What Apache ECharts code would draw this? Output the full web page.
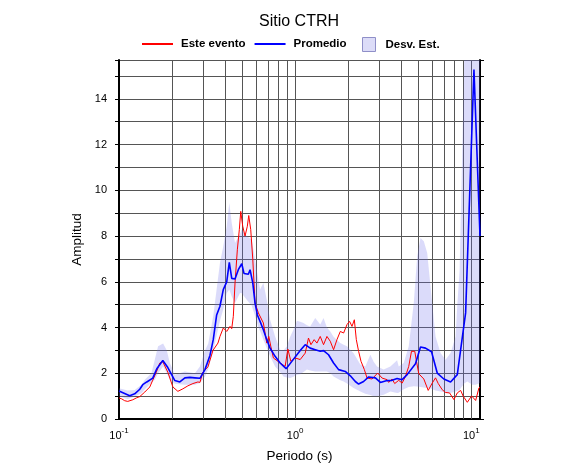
<!DOCTYPE html>
<html><head><meta charset="utf-8">
<script src="https://cdn.jsdelivr.net/npm/echarts@6/dist/echarts.min.js"></script>
<style>html,body{margin:0;padding:0;background:#fff}#c{width:586px;height:475px}</style>
</head><body><div id="c"></div>
<script>
// ---- data ----
const periodRed = [0.100,0.1036,0.1077,0.1121,0.1197,0.1261,0.1312,0.1401,0.1495,0.1555,0.1639,0.1705,0.1773,0.1893,0.2022,0.2159,0.2305,0.2460,0.2627,0.2805,0.2880,0.2995,0.3198,0.3414,0.3645,0.3742,0.3908,0.4087,0.4268,0.4364,0.4456,0.4556,0.4696,0.4819,0.4911,0.5039,0.5194,0.5352,0.5451,0.5596,0.5745,0.5920,0.6182,0.6600,0.6900,0.7085,0.7273,0.7523,0.8214,0.8772,0.9088,0.9452,1.000,1.068,1.140,1.190,1.229,1.282,1.329,1.388,1.449,1.515,1.582,1.652,1.727,1.804,1.884,1.969,2.037,2.102,2.167,2.224,2.292,2.365,2.470,2.559,2.732,2.940,3.114,3.325,3.396,3.550,3.673,3.871,4.048,4.227,4.413,4.573,4.676,4.775,4.864,5.032,5.373,5.692,5.998,6.263,6.489,6.838,7.140,7.525,7.962,8.325,8.693,9.006,9.489,10.04,10.58,11.05,11.2];
const ampRed = [0.92,0.88,0.80,0.77,0.84,0.93,0.98,1.18,1.40,1.70,2.10,2.45,2.50,2.05,1.40,1.21,1.32,1.45,1.55,1.62,1.60,2.05,2.28,3.00,3.32,3.61,3.98,3.83,4.05,3.95,4.49,5.95,7.40,8.28,9.08,8.43,8.00,8.43,8.90,8.28,7.00,5.07,4.64,4.20,3.32,3.61,3.18,2.67,2.45,2.30,3.06,2.52,2.67,2.60,2.88,3.54,3.25,3.47,3.32,3.61,3.25,3.61,3.40,3.03,3.47,3.83,3.76,4.13,4.27,4.05,4.34,3.47,2.96,2.52,2.16,1.79,1.75,2.01,1.79,1.72,1.60,1.75,1.55,1.69,1.57,1.86,2.30,2.96,2.88,2.96,2.59,1.98,1.75,1.25,1.57,1.80,1.55,1.28,1.16,1.14,0.85,1.14,1.25,0.99,0.73,1.01,0.81,1.36,1.40];

const periodBlue = [0.100,0.1150,0.1228,0.1312,0.1364,0.1438,0.1555,0.1639,0.1773,0.1893,0.2075,0.2215,0.2366,0.2526,0.2697,0.2880,0.3075,0.3283,0.3428,0.3584,0.3742,0.3908,0.4087,0.4228,0.4364,0.4556,0.4757,0.4974,0.5128,0.5423,0.5546,0.5745,0.5920,0.6103,0.6321,0.6600,0.6900,0.7205,0.7693,0.8214,0.8887,0.9576,1.068,1.140,1.217,1.300,1.388,1.449,1.547,1.652,1.764,1.925,2.056,2.195,2.292,2.447,2.613,2.853,3.046,3.325,3.550,3.790,4.048,4.322,4.819,5.146,5.494,5.943,6.405,6.982,7.625,8.325,9.281,10.35,11.2];
const ampBlue = [1.22,1.02,1.10,1.30,1.50,1.62,1.79,2.20,2.56,2.25,1.68,1.62,1.80,1.82,1.80,1.78,2.16,2.78,3.47,4.55,4.93,5.66,6.00,6.85,6.15,6.12,6.53,6.79,6.36,6.33,6.53,5.95,5.07,4.55,4.27,3.90,3.47,3.10,2.74,2.45,2.20,2.52,3.00,3.25,3.10,3.03,2.96,2.99,2.81,2.45,2.16,2.08,1.89,1.64,1.53,1.64,1.84,1.80,1.60,1.68,1.69,1.77,1.72,1.94,2.42,3.15,3.10,2.94,2.01,1.75,1.62,1.94,4.64,15.28,8.0];

const periodBand = [0.100,0.1121,0.1228,0.1341,0.1401,0.1529,0.1597,0.1667,0.1780,0.1868,0.1944,0.2075,0.2366,0.2697,0.2880,0.3075,0.3211,0.3428,0.3742,0.3908,0.4087,0.4228,0.4364,0.4556,0.4864,0.4974,0.5311,0.5670,0.5920,0.6182,0.6321,0.6600,0.6900,0.7205,0.7693,0.8214,0.8579,0.8970,0.9367,0.9779,1.023,1.068,1.115,1.166,1.217,1.300,1.388,1.449,1.515,1.582,1.652,1.804,1.884,1.969,2.147,2.344,2.502,2.672,2.790,2.917,3.180,3.472,3.790,3.871,4.133,4.413,4.713,4.928,5.146,5.373,5.618,5.866,6.263,6.687,7.140,7.625,8.141,8.325,8.580,8.808,9.110,9.489,10.13,10.58,11.2];
const bandLow = [1.00,0.87,0.98,1.13,1.30,1.60,1.72,2.00,2.30,2.00,1.72,1.54,1.50,1.50,1.57,1.85,2.20,3.00,4.30,4.80,5.50,5.66,5.36,5.07,5.51,5.50,5.22,4.95,4.50,4.00,3.85,3.47,3.10,2.74,2.30,2.05,1.86,1.82,1.79,1.85,1.94,1.96,2.05,2.16,2.12,2.08,2.08,2.08,2.08,2.00,1.86,1.70,1.64,1.55,1.36,1.20,1.10,1.05,0.99,1.00,1.06,1.20,1.14,1.15,1.30,1.40,1.43,1.42,1.40,1.38,1.36,1.33,1.25,1.20,1.16,1.14,1.20,1.22,1.28,1.40,1.55,1.64,1.50,1.50,1.57];
const bandHigh = [1.35,1.25,1.27,1.50,1.72,2.01,2.60,3.18,3.30,3.00,2.45,1.94,2.08,2.00,2.30,3.00,3.30,4.50,6.82,7.55,8.43,9.45,8.57,7.70,8.10,8.28,8.00,7.84,6.97,6.09,5.66,5.95,5.22,4.34,3.61,3.03,3.00,3.17,3.60,3.90,4.30,4.25,4.20,4.10,4.05,4.42,4.13,4.42,4.00,3.83,3.60,3.32,3.25,3.18,2.88,2.38,2.30,2.81,2.50,2.30,2.16,2.30,2.57,2.30,2.45,3.18,5.07,7.11,7.92,7.77,7.26,5.80,3.61,2.89,2.59,2.89,3.61,5.00,6.50,10.5,15.7,17.5,18.0,17.0,16.5];

// axis ticks / labels
const xDecades = [0.1, 1, 10];
const xExponents = ['-1', '0', '1'];
const xGridPeriods = [0.2,0.3,0.4,0.5,0.6,0.7,0.8,0.9,1,2,3,4,5,6,7,8,9,10];
const yLabelValues = [0,2,4,6,8,10,12,14];
const xMin = 0.1, xMax = 11.2, yMin = 0, yMax = 15.7;

const seriesNames = ['Este evento', 'Promedio', 'Desv. Est.'];

const FONT = 'Liberation Sans, Arial, Helvetica, sans-serif';
const BAND_FILL = 'rgba(110,110,235,0.25)';
const zip = (a, b) => a.map((v, i) => [v, b[i]]);

const chart = echarts.init(document.getElementById('c'), null, {renderer: 'canvas'});
const option = {
  animation: false,
  backgroundColor: '#fff',
  textStyle: {fontFamily: FONT},
  title: {
    text: 'Sitio CTRH', left: 254, top: 9,
    textStyle: {fontSize: 16, fontWeight: 'normal', color: '#000', fontFamily: FONT}
  },
  legend: [{
    data: [seriesNames[0], seriesNames[1]], padding: 0,
    left: 142, top: 38, itemWidth: 31, itemHeight: 2, itemGap: 9, icon: 'rect',
    textStyle: {fontSize: 11.5, fontWeight: 'bold', color: '#000', fontFamily: FONT, padding: [0,0,0,3]}
  }, {
    data: [{name: seriesNames[2], icon: 'rect', itemStyle: {color: '#dcdcf8', borderColor: '#8f8fc8', borderWidth: 1}}],
    padding: 0, left: 362, top: 37, itemWidth: 13, itemHeight: 14,
    textStyle: {fontSize: 11.5, fontWeight: 'bold', color: '#000', fontFamily: FONT, padding: [0,0,0,5]}
  }],
  grid: {left: 119, right: 106, top: 60, bottom: 56, containLabel: false},
  xAxis: [{
    type: 'log', logBase: 10, min: xMin, max: xMax, position: 'bottom',
    name: 'Periodo (s)', nameLocation: 'middle', nameGap: 30,
    nameTextStyle: {fontSize: 13.5, color: '#000', fontFamily: FONT},
    axisLine: {show: true, lineStyle: {color: '#000', width: 2}},
    axisTick: {show: false},
    splitLine: {show: false},
    axisLabel: {
      margin: 8, color: '#000',
      formatter: function (v) {
        const i = xDecades.findIndex(d => Math.abs(Math.log10(d) - Math.log10(v)) < 1e-6);
        if (i < 0) return '';
        return '{b|10}{s|' + xExponents[i] + '}';
      },
      rich: {
        b: {fontSize: 11, lineHeight: 14, verticalAlign: 'bottom', color: '#000', fontFamily: FONT},
        s: {fontSize: 8, lineHeight: 8, verticalAlign: 'top', color: '#000', fontFamily: FONT}
      }
    }
  }, {
    type: 'log', logBase: 10, min: xMin, max: xMax, position: 'top',
    axisLine: {show: true, lineStyle: {color: '#000', width: 2}},
    axisTick: {show: true, length: 4, lineStyle: {color: '#000'}},
    minorTick: {show: true, splitNumber: 9, length: 3, lineStyle: {color: '#000'}},
    axisLabel: {show: false},
    splitLine: {show: false}
  }],
  yAxis: [{
    type: 'value', min: yMin, max: yMax, interval: 1, position: 'left',
    name: 'Amplitud', nameLocation: 'middle', nameGap: 35,
    nameTextStyle: {fontSize: 13.5, color: '#000', fontFamily: FONT},
    axisLine: {show: true, lineStyle: {color: '#000', width: 2}},
    axisTick: {show: true, length: 4, lineStyle: {color: '#000'}},
    axisLabel: {
      margin: 12, color: '#000', fontSize: 11,
      formatter: v => (yLabelValues.indexOf(v) >= 0 ? String(v) : '')
    },
    splitLine: {show: true, lineStyle: {color: '#555', width: 1}}
  }, {
    type: 'value', min: yMin, max: yMax, interval: 1, position: 'right',
    axisLine: {show: true, lineStyle: {color: '#000', width: 2}},
    axisTick: {show: true, length: 4, lineStyle: {color: '#000'}},
    axisLabel: {show: false},
    splitLine: {show: false}
  }],
  series: [{
    name: seriesNames[2], type: 'custom', z: 2, clip: true, silent: true,
    itemStyle: {color: '#dcdcf8'},
    data: periodBand.map((p, i) => [p, bandLow[i], bandHigh[i]]),
    encode: {x: 0, y: [1, 2]},
    renderItem: function (params, api) {
      if (params.dataIndexInside !== 0) return null;
      const upper = periodBand.map((p, i) => api.coord([p, bandHigh[i]]));
      const lower = periodBand.map((p, i) => api.coord([p, bandLow[i]])).reverse();
      return {
        type: 'polygon',
        shape: {points: upper.concat(lower)},
        style: {fill: BAND_FILL, stroke: null}
      };
    }
  }, {
    name: seriesNames[0], type: 'line', z: 3,
    data: zip(periodRed, ampRed),
    symbol: 'none', itemStyle: {color: '#ff0000'},
    lineStyle: {color: '#ff0000', width: 1},
    markLine: {
      silent: true, z: 1, symbol: ['none', 'none'], label: {show: false},
      lineStyle: {color: '#555', width: 1, type: 'solid'},
      data: xGridPeriods.map(p => ({xAxis: p}))
    }
  }, {
    name: seriesNames[1], type: 'line', z: 4,
    data: zip(periodBlue, ampBlue),
    symbol: 'none', itemStyle: {color: '#0000ff'},
    lineStyle: {color: '#0000ff', width: 1.6}
  }]
};
chart.setOption(option);
</script>
</body></html>
